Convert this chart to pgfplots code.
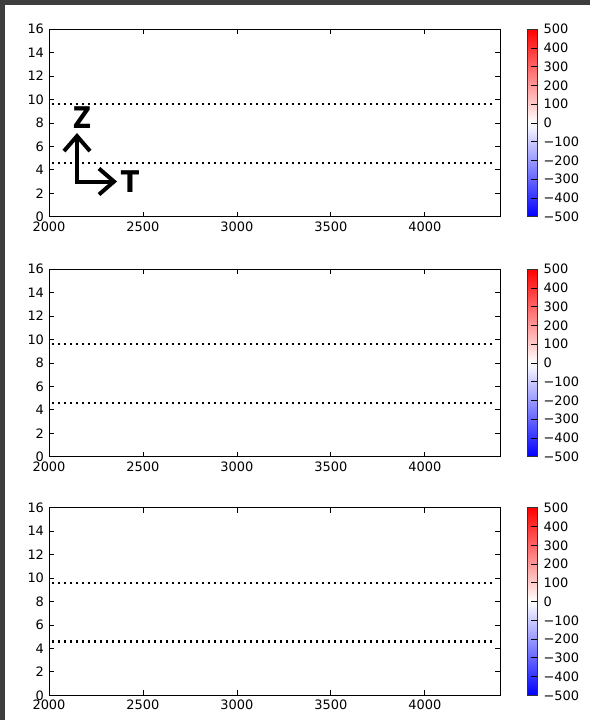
\documentclass[border=0pt]{standalone}
\usepackage{fontspec}
\setmainfont{DejaVu Sans}
\usepackage{pgfplots}
\pgfplotsset{compat=1.18}
\usetikzlibrary{arrows.meta}
\definecolor{framegray}{HTML}{3D3D3D}
\pgfplotsset{
  tick label style={font=\fontsize{13}{15}\selectfont},
  /pgf/number format/assume math mode=true,
  panel/.style={
    scale only axis,
    width=451bp, height=187.5bp,
    xmin=2000, xmax=4400, ymin=0, ymax=16,
    xtick={2000,2500,3000,3500,4000},
    ytick={0,2,4,6,8,10,12,14,16},
    xticklabels={2000,2500,3000,3500,4000},
    yticklabels={0,2,4,6,8,10,12,14,16},
    xticklabel style={yshift=-1.5bp},
    yticklabel style={xshift=-1.5bp},
    tick align=inside,
    major tick length=5bp,
    axis line style={line width=1bp},
    every tick/.style={black, line width=0.8bp},
    point meta min=-500, point meta max=500,
    colormap={bwr}{rgb255=(0,0,255) rgb255=(255,255,255) rgb255=(255,0,0)},
    colorbar,
    colorbar style={
      at={(parent axis.north east)}, xshift=19bp, anchor=north west,
      width=9.5bp,
      ytick={-500,-400,-300,-200,-100,0,100,200,300,400,500},
      yticklabels={−500,−400,−300,−200,−100,0,100,200,300,400,500},
      ytick pos=right,
      major tick length=6bp,
      tick align=inside,
      axis line style={line width=0.8bp, draw=black!80},
      every tick/.style={black, line width=0.8bp},
      yticklabel style={font=\fontsize{13}{15}\selectfont, xshift=3bp},
    },
  },
  dotline/.style={black, line width=2.3bp, dash pattern=on 2.2bp off 3.8bp},
}
\begin{document}
\begin{tikzpicture}
\useasboundingbox (0bp,0bp) rectangle (590bp,720bp);
\fill[framegray] (0bp,0bp) rectangle (590bp,720bp);
\fill[white] (5bp,0bp) rectangle (590bp,715bp);
% panel 1
\begin{axis}[panel, at={(49bp,503.3bp)}, anchor=south west]
\addplot[dotline] coordinates {(2016,9.6) (4370,9.6)};
\addplot[dotline] coordinates {(2016,4.6) (4370,4.6)};
\draw[line width=4bp, {Straight Barb[length=15bp,width=26bp,line width=4bp]}-{Straight Barb[length=15bp,width=26bp,line width=4bp]}]
  (axis cs:2149,7.14) -- (axis cs:2149,3.0) -- (axis cs:2362,3.0);
\node[font=\bfseries\fontsize{30}{30}\selectfont, inner sep=0pt, xscale=0.85] at (axis cs:2176,8.45) {Z};
\node[font=\bfseries\fontsize{30}{30}\selectfont, inner sep=0pt, xscale=0.9] at (axis cs:2431,3.0) {T};
\end{axis}
% panel 2
\begin{axis}[panel, at={(49bp,263.3bp)}, anchor=south west]
\addplot[dotline] coordinates {(2016,9.6) (4370,9.6)};
\addplot[dotline] coordinates {(2016,4.6) (4370,4.6)};
\end{axis}
% panel 3
\begin{axis}[panel, at={(49bp,24.7bp)}, anchor=south west]
\addplot[dotline] coordinates {(2016,9.6) (4370,9.6)};
\addplot[dotline] coordinates {(2016,4.6) (4370,4.6)};
\end{axis}
\end{tikzpicture}
\end{document}
